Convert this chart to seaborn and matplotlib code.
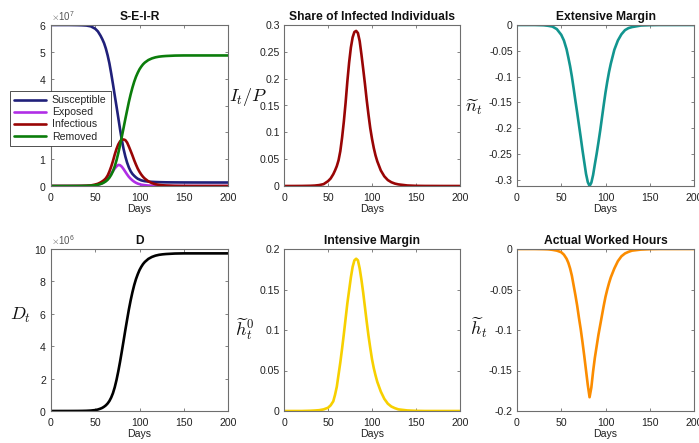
import numpy as np
import pandas as pd
import matplotlib
matplotlib.use("Agg")
import matplotlib.pyplot as plt
import seaborn as sns
from matplotlib.ticker import ScalarFormatter, FuncFormatter, MultipleLocator

# ---------------- data ----------------
days = [0, 10, 20, 30, 35, 40, 45, 50, 53, 56, 58, 60, 62, 64, 66, 68, 70, 72, 74, 76,
        78, 80, 82, 84, 86, 88, 90, 92, 94, 96, 98, 100, 102, 104, 106, 110, 114, 118,
        122, 126, 130, 140, 150, 160, 180, 200]

# S-E-I-R compartments, persons in units of 1e7
susceptible = [6.0, 6.0, 6.0, 5.995, 5.99, 5.98, 5.95, 5.86, 5.76, 5.6, 5.47, 5.32, 5.12,
               4.87, 4.57, 4.2, 3.8, 3.38, 2.97, 2.55, 2.12, 1.72, 1.38, 1.1, 0.87, 0.69,
               0.55, 0.45, 0.38, 0.32, 0.27, 0.24, 0.21, 0.195, 0.18, 0.165, 0.155, 0.148,
               0.143, 0.14, 0.137, 0.134, 0.132, 0.131, 0.13, 0.13]
exposed = [0, 0, 0.0003, 0.001, 0.002, 0.004, 0.01, 0.03, 0.05, 0.08, 0.11, 0.15, 0.2,
           0.27, 0.36, 0.46, 0.56, 0.65, 0.73, 0.785, 0.775, 0.72, 0.63, 0.53, 0.43, 0.34,
           0.27, 0.21, 0.16, 0.12, 0.09, 0.07, 0.05, 0.04, 0.03, 0.017, 0.01, 0.006, 0.003,
           0.002, 0.001, 0, 0, 0, 0, 0]
infectious = [0, 0, 0.0006, 0.0024, 0.0048, 0.0102, 0.021, 0.054, 0.084, 0.132, 0.174,
              0.222, 0.288, 0.39, 0.54, 0.72, 0.93, 1.17, 1.38, 1.548, 1.662, 1.722, 1.734,
              1.71, 1.62, 1.47, 1.308, 1.14, 0.96, 0.798, 0.648, 0.528, 0.426, 0.342, 0.276,
              0.174, 0.108, 0.066, 0.042, 0.027, 0.018, 0.006, 0.0018, 0.0006, 0, 0]
removed = [0, 0, 0.0003, 0.0015, 0.003, 0.0065, 0.014, 0.029, 0.046, 0.074, 0.098, 0.133,
           0.175, 0.233, 0.31, 0.415, 0.55, 0.73, 0.955, 1.22, 1.515, 1.835, 2.165, 2.5,
           2.82, 3.135, 3.415, 3.665, 3.885, 4.07, 4.22, 4.35, 4.45, 4.535, 4.6, 4.695,
           4.755, 4.795, 4.82, 4.835, 4.845, 4.86, 4.865, 4.865, 4.865, 4.865]

# share of infected individuals I_t / P
share_infected = [0, 0, 0.0001, 0.0004, 0.0008, 0.0017, 0.0035, 0.009, 0.014, 0.022, 0.029,
                  0.037, 0.048, 0.065, 0.09, 0.12, 0.155, 0.195, 0.23, 0.258, 0.277, 0.287,
                  0.289, 0.285, 0.27, 0.245, 0.218, 0.19, 0.16, 0.133, 0.108, 0.088, 0.071,
                  0.057, 0.046, 0.029, 0.018, 0.011, 0.007, 0.0045, 0.003, 0.001, 0.0003,
                  0.0001, 0, 0]

# extensive margin n_t
extensive = [0, 0, 0, -0.0005, -0.0015, -0.003, -0.008, -0.019, -0.03, -0.047, -0.063,
             -0.08, -0.1, -0.123, -0.147, -0.17, -0.194, -0.218, -0.243, -0.266, -0.289,
             -0.305, -0.3125, -0.306, -0.291, -0.27, -0.25, -0.228, -0.205, -0.18, -0.155,
             -0.131, -0.11, -0.091, -0.075, -0.048, -0.03, -0.018, -0.01, -0.006, -0.004,
             -0.001, -0.0003, 0, 0, 0]

# deaths D_t, persons in units of 1e6
deaths = [0, 0, 0.0005, 0.003, 0.006, 0.013, 0.027, 0.057, 0.092, 0.148, 0.196, 0.265,
          0.35, 0.465, 0.62, 0.83, 1.1, 1.46, 1.91, 2.44, 3.03, 3.67, 4.33, 5.0, 5.64, 6.27,
          6.83, 7.33, 7.77, 8.14, 8.44, 8.7, 8.9, 9.07, 9.2, 9.39, 9.51, 9.59, 9.64, 9.67,
          9.69, 9.72, 9.73, 9.73, 9.73, 9.73]

# intensive margin h^0_t
intensive = [0, 0, 0, 0.0003, 0.0006, 0.001, 0.002, 0.004, 0.007, 0.012, 0.02, 0.03, 0.045,
             0.06, 0.077, 0.095, 0.114, 0.133, 0.149, 0.165, 0.178, 0.186, 0.188, 0.186,
             0.176, 0.162, 0.146, 0.128, 0.11, 0.093, 0.078, 0.064, 0.053, 0.044, 0.036,
             0.024, 0.015, 0.009, 0.0055, 0.0035, 0.002, 0.0007, 0.0002, 0, 0, 0]

# actual worked hours h_t
hours = [0, 0, 0, -0.0002, -0.0004, -0.001, -0.002, -0.004, -0.007, -0.012, -0.017, -0.024,
         -0.033, -0.045, -0.057, -0.07, -0.085, -0.099, -0.115, -0.132, -0.15, -0.168, -0.183,
         -0.171, -0.151, -0.134, -0.12, -0.106, -0.094, -0.082, -0.07, -0.059, -0.05, -0.042,
         -0.035, -0.024, -0.015, -0.009, -0.0055, -0.0035, -0.002, -0.0007, -0.0002, 0, 0, 0]

compartments = ["Susceptible", "Exposed", "Infectious", "Removed"]
seir_colors = ["#20207a", "#b02ee6", "#990505", "#0b7d0b"]

# ---------------- style ----------------
sns.set_style("white")
plt.rcParams.update({
    "font.family": ["Liberation Sans", "DejaVu Sans"],
    "mathtext.fontset": "cm",
    "axes.unicode_minus": False,
    "xtick.direction": "in", "ytick.direction": "in",
    "xtick.top": True, "ytick.right": True,
    "xtick.bottom": True, "ytick.left": True,
    "xtick.major.size": 2.5, "ytick.major.size": 2.5,
    "xtick.major.width": 0.6, "ytick.major.width": 0.6,
    "axes.linewidth": 0.8, "axes.edgecolor": "#6e6e6e",
    "xtick.labelsize": 7.6, "ytick.labelsize": 7.6,
    "axes.labelsize": 7.6,
})

W, H = 699, 443
fig = plt.figure(figsize=(W / 100, H / 100), dpi=100)


def make_ax(x0, x1, ytop, ybot):
    return fig.add_axes([x0 / W, 1 - ybot / H, (x1 - x0) / W, (ybot - ytop) / H])


cols = [(51, 228), (284, 460), (517, 694)]
rows = [(25, 186), (249, 411)]
axes = [[make_ax(c[0], c[1], r[0], r[1]) for c in cols] for r in rows]

dec_fmt = FuncFormatter(lambda v, p: "0" if abs(v) < 1e-12 else ("%g" % round(v, 4)))
LW = 1.9


def style(ax, title, ylim, ystep, ylabel=None, lab_xy=None):
    ax.set_xlim(0, 200)
    ax.set_ylim(*ylim)
    ax.xaxis.set_major_locator(MultipleLocator(50))
    ax.yaxis.set_major_locator(MultipleLocator(ystep))
    ax.tick_params(axis="both", colors="#6e6e6e", labelcolor="#222222")
    ax.tick_params(axis="x", pad=5)
    ax.tick_params(axis="y", pad=3)
    ax.set_title(title, fontsize=8.7, fontweight="bold", pad=3.5, color="#111111")
    ax.set_xlabel("Days", labelpad=1, color="#222222")
    if ylabel:
        ax.set_ylabel(ylabel, rotation=0, fontsize=13, ha="center", va="center",
                      color="#111111")
        ax.yaxis.set_label_coords(*lab_xy)
    else:
        ax.set_ylabel("")
    for s in ax.spines.values():
        s.set_visible(True)


# Panel 1: S-E-I-R
ax = axes[0][0]
seir = pd.DataFrame({"Days": days * 4,
                     "Persons": np.array(susceptible + exposed + infectious + removed) * 1e7,
                     "Compartment": np.repeat(compartments, len(days))})
sns.lineplot(data=seir, x="Days", y="Persons", hue="Compartment", hue_order=compartments,
             palette=seir_colors, linewidth=LW, estimator=None, ax=ax)
style(ax, "S-E-I-R", (0, 6e7), 1e7)
f = ScalarFormatter(useMathText=True)
f.set_powerlimits((7, 7))
ax.yaxis.set_major_formatter(f)
ax.yaxis.get_offset_text().set_fontsize(7)
ax.yaxis.get_offset_text().set_color("#555555")
h, l = ax.get_legend_handles_labels()
leg = ax.legend(h, l, loc="upper left", bbox_to_anchor=((10 - 51) / 177, (186 - 91) / 161),
                fontsize=7.6, frameon=True, fancybox=False, edgecolor="#333333",
                framealpha=1, borderpad=0.4, borderaxespad=0, handlelength=3.0,
                handletextpad=0.55, labelspacing=0.2)
leg.get_frame().set_linewidth(0.6)

# Panel 2: share infected
ax = axes[0][1]
sns.lineplot(x=days, y=share_infected, color="#990505", linewidth=LW, ax=ax)
style(ax, "Share of Infected Individuals", (0, 0.3), 0.05, r"$I_t/P$", (-0.205, 0.55))
ax.yaxis.set_major_formatter(dec_fmt)

# Panel 3: extensive margin
ax = axes[0][2]
sns.lineplot(x=days, y=extensive, color="#12958f", linewidth=LW, ax=ax)
style(ax, "Extensive Margin", (min(extensive), 0), 0.05, r"$\widetilde{n}_t$", (-0.246, 0.49))
ax.yaxis.set_major_formatter(dec_fmt)

# Panel 4: deaths
ax = axes[1][0]
sns.lineplot(x=days, y=np.array(deaths) * 1e6, color="black", linewidth=LW, ax=ax)
style(ax, "D", (0, 1e7), 2e6, r"$D_t$", (-0.17, 0.59))
f2 = ScalarFormatter(useMathText=True)
f2.set_powerlimits((6, 6))
ax.yaxis.set_major_formatter(f2)
ax.yaxis.get_offset_text().set_fontsize(7)
ax.yaxis.get_offset_text().set_color("#555555")

# Panel 5: intensive margin
ax = axes[1][1]
sns.lineplot(x=days, y=intensive, color="#f7d000", linewidth=LW, ax=ax)
style(ax, "Intensive Margin", (0, 0.2), 0.05, r"$\widetilde{h}^0_t$", (-0.227, 0.506))
ax.yaxis.set_major_formatter(dec_fmt)

# Panel 6: actual worked hours
ax = axes[1][2]
sns.lineplot(x=days, y=hours, color="#fb8c00", linewidth=LW, ax=ax)
style(ax, "Actual Worked Hours", (-0.2, 0), 0.05, r"$\widetilde{h}_t$", (-0.218, 0.512))
ax.yaxis.set_major_formatter(dec_fmt)

fig.savefig("out.png", dpi=100)
